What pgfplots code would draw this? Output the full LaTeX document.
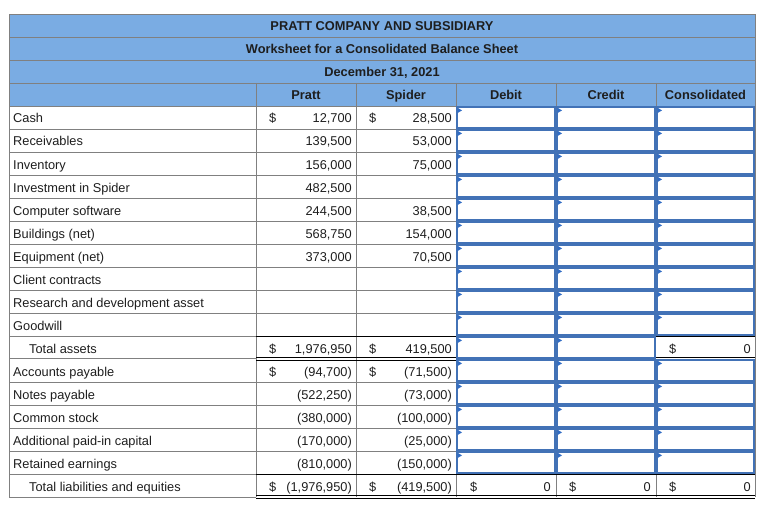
\documentclass[border=0pt]{standalone}
\usepackage{pgfplots}
\pgfplotsset{compat=1.18}
\usepackage{pgfplotstable}
\usepackage{fontspec}
\setmainfont{Liberation Sans}
\definecolor{hdrblue}{RGB}{122,172,227}
\definecolor{gridgray}{RGB}{128,128,128}
\definecolor{inblue}{RGB}{66,114,182}
\definecolor{tri}{RGB}{48,108,196}
\definecolor{txt}{RGB}{30,30,30}
\newcommand\tabfont{\fontsize{12.8}{15}\selectfont}

% row labels: x ; baseline y ; text
\pgfplotstableread[col sep=semicolon]{
x;y;t
13;123;Cash
13;146;Receivables
13;169;Inventory
13;192;Investment in Spider
13;215;Computer software
13;238;Buildings (net)
13;261;Equipment (net)
13;284;Client contracts
13;307;Research and development asset
13;330;Goodwill
29;353;Total assets
13;376;Accounts payable
13;399;Notes payable
13;422;Common stock
13;445;Additional paid-in capital
13;468;Retained earnings
29;491;Total liabilities and equities
}\labeltab

% Pratt column (right edge x=352)
\pgfplotstableread[col sep=semicolon]{
x;y;t
352;123;12,700
352;146;139,500
352;169;156,000
352;192;482,500
352;215;244,500
352;238;568,750
352;261;373,000
352;353;1,976,950
352;376;(94,700)
352;399;(522,250)
352;422;(380,000)
352;445;(170,000)
352;468;(810,000)
352;491;(1,976,950)
}\pratttab

% Spider column (right edge x=452)
\pgfplotstableread[col sep=semicolon]{
x;y;t
452;123;28,500
452;146;53,000
452;169;75,000
452;215;38,500
452;238;154,000
452;261;70,500
452;353;419,500
452;376;(71,500)
452;399;(73,000)
452;422;(100,000)
452;445;(25,000)
452;468;(150,000)
452;491;(419,500)
}\spidertab

% computed totals in Debit / Credit / Consolidated
\pgfplotstableread[col sep=semicolon]{
x;y;t
551;491;0
651;491;0
751;353;0
751;491;0
}\zerotab

% dollar signs
\pgfplotstableread[col sep=semicolon]{
x;y
269;123
269;353
269;376
269;491
369;123
369;353
369;376
369;491
470;491
569;491
669;353
669;491
}\dollartab

% headers (centered, bold)
\pgfplotstableread[col sep=semicolon]{
x;y;t
382;31;PRATT COMPANY AND SUBSIDIARY
382;54;Worksheet for a Consolidated Balance Sheet
382;77;December 31, 2021
306;100;Pratt
406;100;Spider
506;100;Debit
606;100;Credit
705.5;100;Consolidated
}\headtab

\newcommand\incell[3]{%
  \fill[white] (#1,#3) rectangle (#2,#3+23);
  \draw[inblue, line width=1.9pt] (#1+0.95,#3+0.95) rectangle (#2-0.95,#3+22.05);
  \fill[tri] (#1+1.6,#3+1.8) -- (#1+1.6,#3+7.0) -- (#1+6.0,#3+4.4) -- cycle;}

\begin{document}
\begin{tikzpicture}
\begin{axis}[
  scale only axis, width=767pt, height=513pt,
  xmin=0, xmax=767, ymin=0, ymax=513, y dir=reverse,
  hide axis, clip=false,
  every node near coord/.append style={inner sep=0pt, font=\tabfont, text=txt},
]
\path (0,0) rectangle (767,513);
% header band
\fill[hdrblue] (9,14) rectangle (755,106);
\draw[gridgray] (9,14) rectangle (755,106);
\pgfplotsinvokeforeach{37,60,83}{\draw[gridgray] (9,#1) -- (755,#1);}
\pgfplotsinvokeforeach{256,356,456,556,656}{\draw[gridgray] (#1,83) -- (#1,106);}
% left part grid
\pgfplotsinvokeforeach{129,152,175,198,221,244,267,290,313,382,405,428,451}{\draw[gridgray] (9,#1) -- (456,#1);}
\draw[gridgray] (9,336) -- (256,336);
\draw[gridgray] (9,358.5) -- (256,358.5);
\draw[gridgray] (9,474) -- (256,474);
\draw[gridgray] (9,497) -- (256,497);
\pgfplotsinvokeforeach{9,256,356,456,755}{\draw[gridgray] (#1,106) -- (#1,497);}
\pgfplotsinvokeforeach{556,656}{\draw[gridgray] (#1,474) -- (#1,497);}
% total lines
\draw[black] (256,336) -- (456,336);
\draw[black] (656,336) -- (755,336);
\draw[black] (256,357.3) -- (456,357.3);
\draw[black] (256,359.8) -- (456,359.8);
\draw[black] (656,357.3) -- (755,357.3);
\draw[black] (656,359.8) -- (755,359.8);
\draw[black] (256,474.5) -- (755,474.5);
\draw[black] (256,495.5) -- (755,495.5);
\draw[black] (256,498) -- (755,498);
% input cells
\pgfplotsinvokeforeach{106,129,152,175,198,221,244,267,290,313,359,382,405,428,451}{%
  \incell{456}{556}{#1}\incell{556}{656}{#1}\incell{656}{755}{#1}}
\incell{456}{556}{336}\incell{556}{656}{336}
% texts
\addplot[draw=none, mark=none, nodes near coords, point meta=explicit symbolic,
  every node near coord/.append style={anchor=base west}] table[x=x, y=y, meta=t] {\labeltab};
\addplot[draw=none, mark=none, nodes near coords, point meta=explicit symbolic,
  every node near coord/.append style={anchor=base east}] table[x=x, y=y, meta=t] {\pratttab};
\addplot[draw=none, mark=none, nodes near coords, point meta=explicit symbolic,
  every node near coord/.append style={anchor=base east}] table[x=x, y=y, meta=t] {\spidertab};
\addplot[draw=none, mark=none, nodes near coords, point meta=explicit symbolic,
  every node near coord/.append style={anchor=base east}] table[x=x, y=y, meta=t] {\zerotab};
\addplot[draw=none, mark=none, nodes near coords={\$},
  every node near coord/.append style={anchor=base west}] table[x=x, y=y] {\dollartab};
\addplot[draw=none, mark=none, nodes near coords, point meta=explicit symbolic,
  every node near coord/.append style={anchor=base, font=\tabfont\bfseries}] table[x=x, y=y, meta=t] {\headtab};
\end{axis}
\end{tikzpicture}
\end{document}
